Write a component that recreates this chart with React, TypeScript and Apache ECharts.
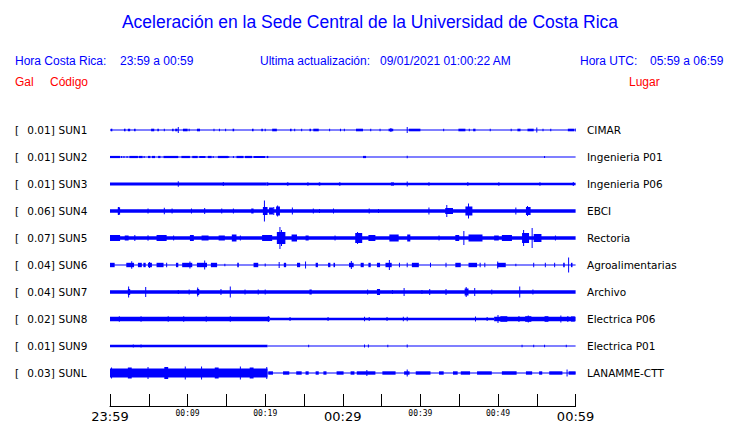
import React, { useEffect, useRef } from 'react';
import * as echarts from 'echarts';

const BLUE = '#0000ff';
const RED = '#ff0000';

const stations = ['SUN1', 'SUN2', 'SUN3', 'SUN4', 'SUN5', 'SUN6', 'SUN7', 'SUN8', 'SUN9', 'SUNL'];
const places = ['CIMAR', 'Ingenieria P01', 'Ingenieria P06', 'EBCI', 'Rectoria', 'Agroalimentarias', 'Archivo', 'Electrica P06', 'Electrica P01', 'LANAMME-CTT'];
const peakGal = ['0.01', '0.01', '0.01', '0.06', '0.07', '0.04', '0.04', '0.02', '0.01', '0.03'];

// minute offsets of labelled ticks (every 10 min) and their texts
const labelMinutes = [0, 10, 20, 30, 40, 50, 60];
const timeLabels = ['23:59', '00:09', '00:19', '00:29', '00:39', '00:49', '00:59'];
const bigLabels = ['23:59', '00:29', '00:59'];

// Each trace: [startMinute, endMinute, halfAmplitude]
const sun1 = [
  [0, 60, 0.5],
  [0.1, 0.3, 1.3], [1.8, 2.0, 1.3], [2.3, 2.6, 1.3], [3.1, 3.3, 1.3], [5.3, 5.7, 1.3], [6.1, 6.3, 1.3], [7.0, 7.0, 1.3],
  [8.0, 8.2, 1.3], [8.4, 8.7, 1.3], [9.4, 10.0, 1.3], [10.2, 10.2, 1.3], [11.2, 11.6, 1.3], [13.4, 13.4, 1.3], [14.1, 14.1, 1.3],
  [14.9, 14.9, 1.3], [15.8, 16.0, 1.3], [18.3, 18.5, 1.3], [19.5, 19.7, 1.3], [20.0, 20.0, 1.3], [20.9, 21.5, 1.3], [23.2, 23.4, 1.3],
  [23.8, 23.8, 1.3], [24.7, 24.7, 1.3], [25.7, 25.9, 1.3], [26.2, 26.9, 1.3], [28.3, 28.3, 1.3], [29.7, 29.7, 1.3], [30.2, 30.2, 1.3],
  [31.7, 32.6, 1.3], [33.6, 33.6, 1.3], [34.8, 34.8, 1.3], [35.9, 36.5, 1.3], [38.5, 40.0, 1.3], [43.0, 43.0, 1.3], [44.9, 45.8, 1.3],
  [46.3, 46.3, 1.3], [46.8, 47.1, 1.3], [49.0, 49.0, 1.3], [51.7, 51.7, 1.3], [52.5, 52.9, 1.3], [53.8, 54.6, 1.3], [55.8, 55.8, 1.3],
  [56.8, 56.8, 1.3], [59.0, 59.8, 1.3], [59.95, 59.95, 1.5],
  [8.8, 8.8, 3], [38.3, 38.3, 3], [55.0, 55.0, 2.5], [36.2, 36.2, 2],
];
const sun2 = [
  [0, 60, 0.5],
  [0, 1.3, 1.1], [1.5, 1.5, 1.1], [1.8, 1.8, 1.1], [2.2, 2.2, 1.1], [2.5, 3.6, 1.1], [3.7, 4.2, 1.1], [4.4, 4.4, 1.1], [4.9, 5.2, 1.1],
  [5.4, 5.8, 1.1], [6.2, 6.5, 1.1], [6.9, 8.8, 1.1], [9.2, 10.3, 1.1], [10.6, 11.3, 1.1], [11.5, 12.3, 1.1], [12.6, 13.1, 1.1],
  [13.3, 13.3, 1.1], [13.9, 15.2, 1.1], [15.3, 15.3, 1.1], [15.9, 15.9, 1.1], [16.3, 17.2, 1.1], [17.4, 18.3, 1.1], [18.5, 20.0, 1.1],
  [20.2, 20.4, 1.1], [32.6, 33.0, 1.1], [38.3, 38.3, 1.2], [56.0, 56.0, 0.9],
];
const sun3 = [
  [0, 20.2, 1.5], [20.2, 60, 1.2],
  [8.8, 8.8, 2.8], [14.6, 14.6, 2], [38.3, 38.3, 2.5],
  [20.2, 20.4, 1.6], [22.8, 23.0, 1.6], [25.4, 25.6, 1.6], [26.9, 27.1, 1.6], [29.5, 29.7, 1.6], [36.2, 36.6, 1.6],
  [41.0, 41.2, 1.6], [46.0, 46.2, 1.6], [50.0, 50.2, 1.6], [55.3, 55.5, 1.6], [59.7, 59.7, 2],
];
const sun4 = [
  [0, 60, 1.7],
  [1.0, 1.3, 3.7], [1.1, 1.1, 4], [4.9, 4.9, 2.5], [7.0, 7.0, 3.3], [8.0, 8.0, 2.5], [10.5, 10.5, 2.5], [12.2, 12.2, 3],
  [14.4, 14.4, 2.5], [15.9, 15.9, 2.5], [18.2, 18.5, 2.5], [19.9, 19.9, 10.5], [19.7, 20.3, 4], [20.5, 21.0, 3.5],
  [21.1, 21.1, 4], [21.4, 21.9, 4.5], [21.6, 21.6, 5.5], [23.5, 23.5, 3.5], [26.2, 26.2, 2.5], [27.0, 27.0, 2],
  [28.8, 28.8, 2.5], [33.4, 33.4, 2.5], [34.6, 34.6, 2], [41.1, 41.1, 3.5], [43.4, 43.4, 6], [43.2, 44.2, 3],
  [45.8, 46.7, 4.5], [46.2, 46.2, 7.5], [52.3, 52.3, 3.5], [53.6, 54.2, 4], [53.8, 53.8, 5],
];
const sun5 = [
  [0, 60, 1.7],
  [0, 1.3, 3], [1.9, 2.4, 2.5], [3.2, 3.2, 3], [4.9, 4.9, 2.8], [6.0, 7.3, 3], [8.2, 8.2, 2.5], [10.3, 10.8, 3],
  [11.8, 12.7, 2.5], [14.0, 14.8, 2.5], [15.7, 16.3, 3.5], [16.8, 16.8, 2.5], [19.6, 20.9, 3], [21.5, 22.6, 6],
  [21.9, 21.9, 11], [22.1, 22.1, 8], [23.4, 24.1, 3.5], [25.2, 25.6, 2.5], [29.0, 29.0, 2.5], [31.6, 32.5, 5],
  [31.9, 31.9, 6], [33.3, 34.2, 3], [36.0, 37.2, 3.5], [38.3, 38.7, 3.5], [42.4, 42.4, 2.5], [44.5, 45.0, 3],
  [45.6, 45.6, 7], [46.2, 48.0, 3.5], [49.5, 50.1, 2.5], [50.5, 51.8, 3], [53.1, 54.0, 5], [53.3, 53.3, 8],
  [54.4, 54.4, 10], [54.6, 55.6, 4], [57.4, 57.4, 2.5],
];
const sun6 = [
  [0, 60, 0.5],
  [0, 0.6, 2.2], [2.1, 3.1, 2.2], [3.6, 4.1, 2.2], [4.3, 4.6, 2.2], [4.9, 5.4, 2.2], [6.0, 6.9, 2.2], [7.3, 7.3, 2.2],
  [8.5, 8.8, 2.2], [9.3, 10.6, 2.2], [11.2, 12.5, 2.2], [13.0, 13.8, 2.2], [14.8, 14.8, 1.2], [16.4, 16.6, 2.2],
  [18.5, 19.1, 2.2], [20.0, 20.0, 1.5], [22.4, 22.7, 2.2], [24.1, 24.5, 2.2], [26.5, 26.8, 2.2], [28.1, 28.4, 2.2],
  [28.8, 29.0, 2.2], [30.8, 31.4, 2.2], [32.3, 32.7, 2.2], [33.3, 33.6, 2.2], [34.4, 34.8, 2.2], [35.5, 36.3, 2.2],
  [37.3, 37.3, 2.2], [38.3, 38.3, 2.2], [38.9, 39.8, 2.2], [41.3, 41.3, 2.2], [43.3, 43.3, 2.2], [44.5, 45.2, 2.2],
  [46.2, 47.3, 2.2], [47.7, 47.7, 2.2], [48.3, 48.3, 2.2], [49.9, 51.0, 2.2], [52.3, 52.3, 1.2], [54.6, 54.6, 2.2],
  [56.1, 56.1, 2.2], [57.3, 57.3, 2.2], [58.4, 58.6, 2.2], [59.4, 59.6, 2.2],
  [2.8, 2.8, 3.7], [5.1, 5.1, 3], [10.3, 10.3, 3.5], [12.2, 12.2, 4.5], [21.8, 21.8, 3], [25.2, 25.2, 3.5],
  [31.1, 31.1, 4], [36.0, 36.0, 5], [49.9, 50.0, 3.5], [59.1, 59.1, 7.5],
];
const sun7 = [
  [0, 60, 1.7],
  [2.4, 2.4, 5.5], [2.3, 2.6, 3], [4.6, 4.6, 5], [8.8, 8.8, 2], [10.2, 10.2, 2.5], [11.3, 11.3, 4.5], [11.2, 11.5, 3],
  [14.3, 14.3, 3], [15.5, 15.5, 5.5], [17.4, 17.4, 2.5], [19.1, 19.1, 2.5], [20.0, 20.0, 2.5], [25.7, 26.0, 2.5],
  [33.2, 33.2, 2.5], [34.4, 34.8, 3], [36.4, 36.4, 2], [37.9, 37.9, 4], [40.2, 40.2, 2], [41.2, 41.2, 3],
  [43.3, 43.3, 3], [45.7, 46.2, 3.5], [45.9, 45.9, 5], [47.0, 47.0, 4], [49.2, 49.2, 2.5], [52.8, 52.8, 5.5],
  [54.5, 54.5, 2.5],
];
const sun8 = [
  [0, 20.6, 2.2], [20.6, 49.5, 1.3], [49.5, 60, 2.2],
  [1.2, 1.2, 2.8], [4.0, 4.0, 2.8], [7.5, 7.5, 2.8], [9.5, 9.5, 2.8], [12.4, 12.4, 2.8], [15.5, 15.5, 2.8], [20.4, 20.4, 3],
  [23.2, 23.2, 2], [28.1, 28.1, 2], [32.8, 32.8, 2.2], [33.4, 33.4, 2], [35.7, 35.7, 2], [37.8, 37.8, 2.2], [38.3, 38.3, 2.2],
  [47.1, 47.1, 2.5], [48.6, 48.6, 2],
  [50.0, 50.0, 4], [50.3, 51.2, 2.8], [52.7, 52.7, 3], [53.5, 54.3, 2.8], [53.9, 53.9, 3.5], [56.0, 56.5, 2.8],
  [58.1, 58.1, 3.5], [59.0, 59.0, 3], [59.4, 59.9, 2.6],
];
const sun9 = [
  [0, 20.3, 1.3], [20.3, 60, 0.5],
  [3.0, 3.0, 1.6], [4.0, 4.0, 1.5], [25.6, 25.6, 1.2], [32.8, 32.8, 1.5], [33.3, 33.3, 1.5], [35.8, 35.8, 1.2],
  [38.3, 38.3, 1.5], [53.1, 53.1, 1.2], [54.6, 54.6, 1.2], [56.0, 56.0, 1.2], [58.8, 58.8, 1.2],
];
const sunl = [
  [0, 20.3, 4.5], [20.3, 60, 0.5],
  [0.2, 0.2, 5.5], [2.3, 2.8, 5.5], [4.9, 4.9, 6], [7.0, 7.5, 6], [9.7, 9.7, 6.5], [11.8, 11.8, 6.5], [13.5, 14.0, 5.5],
  [16.8, 16.8, 6.5], [18.0, 18.5, 5.5], [20.2, 20.2, 6],
  [20.4, 21.0, 1.7], [22.3, 23.1, 1.7], [24.0, 24.7, 1.7], [25.2, 25.6, 1.7], [26.5, 26.9, 1.7], [27.5, 27.9, 1.7],
  [29.2, 30.1, 1.7], [31.0, 31.5, 1.7], [31.8, 34.2, 1.7], [35.1, 36.8, 1.7], [37.9, 38.6, 1.7], [39.4, 41.3, 1.7],
  [42.4, 43.0, 1.7], [44.2, 44.8, 1.7], [45.2, 46.4, 1.7], [47.3, 49.2, 1.7], [50.5, 52.4, 1.7], [53.6, 54.4, 1.7],
  [55.3, 55.7, 1.7], [56.6, 58.3, 1.7], [59.1, 60.0, 1.7],
  [33.1, 33.1, 3], [38.3, 38.3, 3.5], [58.9, 58.9, 3.5],
];
const traces = [sun1, sun2, sun3, sun4, sun5, sun6, sun7, sun8, sun9, sunl];

const PLOT_LEFT = 110;
const PLOT_RIGHT = 740 - 575.6;
const ROW0 = 130;
const ROW_STEP = 27;

const renderItem = (params: any, api: any) => {
  const t0 = api.value(0);
  const t1 = api.value(1);
  const a = api.value(2);
  const p0 = api.coord([t0, 0]);
  const p1 = api.coord([t1, 0]);
  const h = Math.abs(api.size([0, a])[1]);
  const w = Math.max(p1[0] - p0[0], 1);
  const x = t1 > t0 ? p0[0] : p0[0] - 0.5;
  return {
    type: 'rect',
    shape: { x, y: p0[1] - h, width: w, height: 2 * h },
    style: { fill: BLUE },
  };
};

export default function App() {
  const ref = useRef<HTMLDivElement>(null);
  useEffect(() => {
    if (!ref.current) return;
    const chart = echarts.init(ref.current, null, { renderer: 'svg' });
    const grids: any[] = [];
    const xAxes: any[] = [];
    const yAxes: any[] = [];
    const series: any[] = [];
    traces.forEach((tr, i) => {
      grids.push({ left: PLOT_LEFT, right: PLOT_RIGHT, top: ROW0 - ROW_STEP / 2 + ROW_STEP * i, height: ROW_STEP });
      xAxes.push({ gridIndex: i, type: 'value', min: 0, max: 60, show: false });
      yAxes.push({ gridIndex: i, type: 'value', min: -13.5, max: 13.5, show: false });
      series.push({
        type: 'custom',
        xAxisIndex: i,
        yAxisIndex: i,
        renderItem,
        clip: false,
        encode: { x: [0, 1], y: 2 },
        data: tr,
        silent: true,
      });
    });
    const ti = traces.length;
    grids.push({ left: PLOT_LEFT, right: PLOT_RIGHT, top: 397, height: 12 });
    xAxes.push({
      gridIndex: ti,
      type: 'value',
      min: 0,
      max: 60,
      interval: 5,
      axisLine: { show: true, lineStyle: { color: '#000', width: 1 } },
      axisTick: { show: true, inside: true, length: 12, lineStyle: { color: '#000', width: 1 } },
      splitLine: { show: false },
      axisLabel: {
        show: true,
        margin: 2,
        showMinLabel: true,
        showMaxLabel: true,
        verticalAlign: 'top',
        formatter: (v: number) => {
          const k = labelMinutes.indexOf(Math.round(v));
          if (k < 0) return '';
          const t = timeLabels[k];
          return bigLabels.includes(t) ? `{big|${t}}` : `{small|${t}}`;
        },
        rich: {
          big: { fontSize: 13, fontFamily: 'DejaVu Sans', color: '#000', padding: [2, 0, 0, 0] },
          small: { fontSize: 8, fontFamily: 'DejaVu Sans Mono', color: '#000', padding: [1, 0, 0, 0] },
        },
      },
    });
    yAxes.push({ gridIndex: ti, type: 'value', min: 0, max: 1, show: false });

    const graphics: any[] = [];
    const txt = (text: string, x: number, y: number, size: number, fill: string, family: string, align = 'left') => ({
      type: 'text',
      x,
      y,
      silent: true,
      style: { text, fill, fontSize: size, fontFamily: family, textAlign: align, textVerticalAlign: 'middle' },
    });
    const SANS = '"Liberation Sans", Arial, sans-serif';
    const DV = '"DejaVu Sans", sans-serif';
    graphics.push(txt('Aceleración en la Sede Central de la Universidad de Costa Rica', 370, 22, 17.5, BLUE, SANS, 'center'));
    graphics.push(txt('Hora Costa Rica:', 15, 61, 12, BLUE, SANS));
    graphics.push(txt('23:59 a 00:59', 120, 61, 12, BLUE, SANS));
    graphics.push(txt('Ultima actualización:', 260, 61, 12, BLUE, SANS));
    graphics.push(txt('09/01/2021 01:00:22 AM', 380, 61, 12, BLUE, SANS));
    graphics.push(txt('Hora UTC:', 580, 61, 12, BLUE, SANS));
    graphics.push(txt('05:59 a 06:59', 650, 61, 12, BLUE, SANS));
    graphics.push(txt('Gal', 15, 82, 12, RED, SANS));
    graphics.push(txt('Código', 50, 82, 12, RED, SANS));
    graphics.push(txt('Lugar', 629, 82, 12, RED, SANS));
    stations.forEach((s, i) => {
      const y = ROW0 + ROW_STEP * i;
      graphics.push(txt('[', 15, y, 10.5, '#000', DV));
      graphics.push(txt(peakGal[i] + ']', 27.3, y, 10.5, '#000', DV));
      graphics.push(txt(s, 58.5, y, 10.5, '#000', DV));
      graphics.push(txt(places[i], 587, y, 10.5, '#000', DV));
    });

    chart.setOption({
      animation: false,
      backgroundColor: '#fff',
      grid: grids,
      xAxis: xAxes,
      yAxis: yAxes,
      series,
      graphic: graphics,
    });
    return () => chart.dispose();
  }, []);
  return <div ref={ref} style={{ position: 'fixed', left: 0, top: 0, width: 740, height: 423 }} />;
}
